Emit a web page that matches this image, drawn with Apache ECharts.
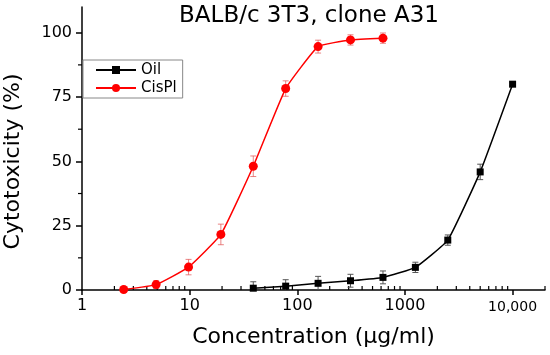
<!DOCTYPE html>
<html><head><meta charset="utf-8">
<script src="https://cdn.jsdelivr.net/npm/echarts@6/dist/echarts.min.js"></script>
<style>html,body{margin:0;padding:0;background:#fff}#c{width:550px;height:355px}</style>
</head><body><div id="c"></div>
<script>
const titleText = 'BALB/c 3T3, clone A31';
const xName = 'Concentration (\u03BCg/ml)';
const yName = 'Cytotoxicity (%)';
const xTicks = [1, 10, 100, 1000, 10000];
const yTicks = [0, 25, 50, 75, 100];
const xMinorTicks = [2,3,4,5,6,7,8,9,20,30,40,50,60,70,80,90,200,300,400,500,600,700,800,900,2000,3000,4000,5000,6000,7000,8000,9000,20000];
const yMinorTicks = [12.5, 37.5, 62.5, 87.5];

const cisX = [2.44, 4.88, 9.77, 19.5, 39, 78, 156, 312, 625];
const cisY = [0.2, 2.1, 8.9, 21.6, 48.1, 78.3, 94.6, 97.2, 97.9];
const cisErr = [0.5, 1.5, 3, 4, 4, 3, 2.5, 2, 2];

const oilX = [39, 78, 156, 312, 625, 1250, 2500, 5000, 10000];
const oilY = [0.7, 1.5, 2.6, 3.6, 4.9, 8.8, 19.4, 45.9, 80];
const oilErr = [2.5, 2.5, 2.7, 2.5, 2.5, 2, 2, 3, 0.5];

const FF = 'DejaVu Sans';

function errRender(color){
  return function(params, api){
    const x = api.value(0), y = api.value(1), e = api.value(2);
    const t = api.coord([x, y + e]), b = api.coord([x, y - e]);
    const w = 3;
    const style = {stroke: color, lineWidth: 1, fill: null};
    return {type:'group', children:[
      {type:'line', shape:{x1:t[0], y1:t[1], x2:b[0], y2:b[1]}, style:style},
      {type:'line', shape:{x1:t[0]-w, y1:t[1], x2:t[0]+w, y2:t[1]}, style:style},
      {type:'line', shape:{x1:b[0]-w, y1:b[1], x2:b[0]+w, y2:b[1]}, style:style}
    ]};
  };
}
function minorRender(params, api){
  const p = api.coord([api.value(0), api.value(1)]);
  const kind = api.value(2);
  const style = {stroke:'#000', lineWidth:1.2};
  if (kind === 0) {
    return {type:'line', shape:{x1:p[0], y1:p[1], x2:p[0], y2:p[1]-4}, style:style};
  }
  return {type:'line', shape:{x1:p[0], y1:p[1], x2:p[0]-4, y2:p[1]}, style:style};
}

const minorData = xMinorTicks.map(v => [v, 0, 0]).concat(yMinorTicks.map(v => [1, v, 1]));

const chart = echarts.init(document.getElementById('c'));
chart.setOption({
  animation: false,
  backgroundColor: '#fff',
  textStyle: {fontFamily: FF},
  title: {text: titleText, left: 309, top: 5, textAlign: 'center', padding: 0,
    textStyle: {fontFamily: FF, fontSize: 23, fontWeight: 'normal', color: '#000'}},
  grid: {left: 82, right: 5, top: 7, bottom: 65, containLabel: false, outerBoundsMode: 'none'},
  legend: {data: ['Oil', 'CisPl'], orient: 'vertical', left: 83, top: 60,
    borderColor: '#888', borderWidth: 1, padding: [2, 6, 2, 12],
    itemWidth: 40, itemHeight: 10, itemGap: 2,
    textStyle: {fontFamily: FF, fontSize: 15, lineHeight: 16, color: '#000'}},
  xAxis: {type: 'log', logBase: 10, min: 1, max: 20000,
    name: xName, nameLocation: 'middle', nameGap: 36,
    nameTextStyle: {fontFamily: FF, fontSize: 22, color: '#000'},
    axisLine: {show: true, onZero: false, lineStyle: {color: '#000', width: 1.5}},
    axisTick: {show: true, customValues: xTicks, length: 5, inside: false, lineStyle: {color: '#000', width: 1.5}},
    axisLabel: {customValues: xTicks, margin: 8, color: '#000', fontFamily: FF, fontSize: 16,
      formatter: function(v){ const r = Math.round(v); return r === 10000 ? '{s|10,000}' : String(r); },
      rich: {s: {fontFamily: FF, fontSize: 14, color: '#000', padding: [2, 0, 0, 0]}}},
    splitLine: {show: false}, minorTick: {show: false}, minorSplitLine: {show: false}},
  yAxis: {type: 'value', min: 0, max: 110,
    name: yName, nameLocation: 'middle', nameGap: 58, nameRotate: 90,
    nameTextStyle: {fontFamily: FF, fontSize: 22, color: '#000', padding: [0, 26, 0, 0]},
    axisLine: {show: true, lineStyle: {color: '#000', width: 1.5}},
    axisTick: {show: true, customValues: yTicks, length: 6, inside: false, lineStyle: {color: '#000', width: 1.5}},
    axisLabel: {customValues: yTicks, margin: 10, color: '#000', fontFamily: FF, fontSize: 16},
    splitLine: {show: false}},
  series: [
    {type: 'custom', name: 'minor', renderItem: minorRender, data: minorData, clip: false, silent: true, z: 1},
    {type: 'custom', name: 'errOil', renderItem: errRender('#555'), data: oilX.map((x, i) => [x, oilY[i], oilErr[i]]), clip: true, silent: true, z: 2},
    {type: 'custom', name: 'errCis', renderItem: errRender('rgba(225,90,90,0.75)'), data: cisX.map((x, i) => [x, cisY[i], cisErr[i]]), clip: true, silent: true, z: 2},
    {type: 'line', name: 'Oil', data: oilX.map((x, i) => [x, oilY[i]]), symbol: 'rect', symbolSize: 7,
      smooth: 0.12, itemStyle: {color: '#000'}, lineStyle: {color: '#000', width: 1.5}, z: 3},
    {type: 'line', name: 'CisPl', data: cisX.map((x, i) => [x, cisY[i]]), symbol: 'circle', symbolSize: 9,
      smooth: 0.12, itemStyle: {color: '#ff0000'}, lineStyle: {color: '#ff0000', width: 1.5}, z: 4}
  ]
});
</script></body></html>
